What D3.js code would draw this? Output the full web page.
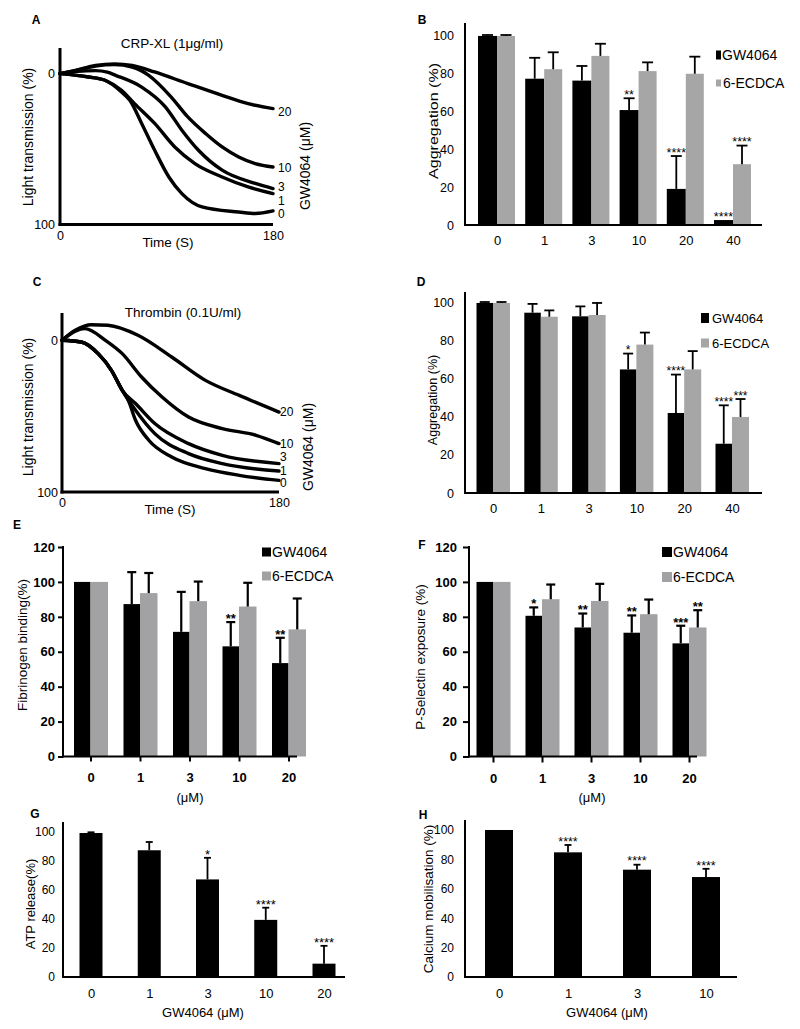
<!DOCTYPE html>
<html><head><meta charset="utf-8">
<script src="https://cdn.jsdelivr.net/npm/d3@7"></script>
<style>body{margin:0;background:#fff}</style>
</head><body>
<svg id="c" width="800" height="1029" style="background:#fff"></svg>
<script>
// ---------------- DATA ----------------
const doseB = ["0","1","3","10","20","40"];
const doseE = ["0","1","3","10","20"];
const doseH = ["0","1","3","10"];
const traceLabels = ["20","10","3","1","0"];
const axTicks0100 = [0,100];
const timeTicks = [0,180];

// A: CRP-XL traces [time (s), light transmission (%)]
const crp20 = [[0,0],[13,-2.2],[30,-5.5],[46,-6.5],[61,-5.5],[80,-1.1],[108,6.6],[137,14.4],[159,19.9],[180,23.2]];
const crp10 = [[0,0],[13,-2],[30,-5],[46,-6],[61,-4.4],[75,1.1],[94,15.5],[108,28.7],[123,39.7],[137,48.6],[151,55.2],[165,59.6],[180,61.9]];
const crp3  = [[0,0],[15,-1.5],[30,-2],[40,-1],[47,1.1],[69,8.9],[89,22],[103,37.5],[117,50.8],[137,64],[165,72.8],[180,76.2]];
const crp1  = [[0,0],[24,2.2],[38,4.4],[52,11],[63,19.9],[80,33],[97,48.6],[114,59.6],[137,68.5],[159,75.1],[180,79.5]];
const crp0  = [[0,0],[24,2.2],[38,4.4],[52,12.2],[59,17.7],[69,33],[80,50.8],[92,68.5],[103,79.5],[120,88.3],[151,91.7],[165,92.7],[180,91]];

// C: Thrombin traces
const thr20 = [[0,0],[11,-6.6],[24.5,-10.3],[38,-9.9],[63,-3.3],[91,11],[119,26.4],[147,36.3],[180,47.3]];
const thr10 = [[0,0],[11,-6],[19,-7.7],[36,0],[50,8.8],[66,24.2],[83,37.4],[105,50.6],[133,58.2],[161,62.6],[180,68.1]];
const thr3  = [[0,0],[16,1.1],[30,8.8],[41,19.8],[50,33],[61,41.7],[77,54.9],[105,68.1],[133,75.8],[180,81.3]];
const thr1  = [[0,0],[16,1.1],[30,8.8],[41,19.8],[50,33],[61,46.1],[77,61.5],[105,74.7],[133,81.3],[180,86.2]];
const thr0  = [[0,0],[16,1.1],[30,8.8],[41,19.8],[50,33],[55,39.6],[61,52.7],[72,65.9],[91,76.9],[119,84.6],[147,89],[180,92.3]];

// B: CRP-XL aggregation
const bGw = [99.5,77,76,60.5,19,2.6];
const bGwErr = [0.5,11,7.7,6.2,17.3,0];
const bGwStars = ["","","","**","****","****"];
const bEc = [99.5,82,89,81,79.6,32];
const bEcErr = [0.5,8.9,6.4,4.6,9,9.8];
const bEcStars = ["","","","","","****"];

// D: Thrombin aggregation
const dGw = [99.5,94.4,92.5,64.7,41.9,25.8];
const dGwErr = [0.5,4.6,5.2,8.3,20.1,20.1];
const dGwStars = ["","","","*","****","****"];
const dEc = [99.5,92.3,93.2,77.7,64.7,39.8];
const dEcErr = [0.5,3.3,6.3,6.3,9.6,9.4];
const dEcStars = ["","","","","","***"];

// E: Fibrinogen binding
const eGw = [100,87.3,71.4,63.1,53.5];
const eGwErr = [0,18.3,22.9,13.9,14.5];
const eGwStars = ["","","","**","**"];
const eEc = [100,93.6,89,85.9,72.8];
const eEcErr = [0,11.5,11.2,13.6,17.7];
const eEcStars = ["","","","",""];

// F: P-Selectin exposure
const fGw = [100,80.6,73.9,70.9,64.8];
const fGwErr = [0,4.8,8,9.9,10.1];
const fGwStars = ["","*","**","**","***"];
const fEc = [100,90.1,89.1,81.5,73.9];
const fEcErr = [0,8.4,9.8,8.4,9.9];
const fEcStars = ["","","","","**"];

// G: ATP release
const gAtp = [99.3,87.4,67.3,39.4,9.2];
const gAtpErr = [0.5,5.7,14.9,8.4,12.3];
const gStars = ["","","*","****","****"];

// H: Calcium mobilisation
const hCa = [100,84.8,73,68];
const hCaErr = [0,5,3.4,5.6];
const hStars = ["","****","****","****"];

const tick0100 = [0,20,40,60,80,100];
const tick0120 = [0,20,40,60,80,100,120];

// ---------------- DRAW ----------------
const FONT = '"Liberation Sans", Arial, Helvetica, sans-serif';
const svg = d3.select("#c");

function T(x, y, s, fs, opt = {}) {
  const t = svg.append("text")
    .attr("font-size", fs).attr("font-family", FONT).attr("fill", "#000")
    .attr("text-anchor", opt.anchor || "start")
    .attr("dominant-baseline", opt.base || "central")
    .attr("font-weight", opt.bold ? "bold" : "normal")
    .text(s);
  if (opt.rot) t.attr("transform", `translate(${x},${y}) rotate(${opt.rot})`);
  else t.attr("x", x).attr("y", y);
  if (opt.len) t.attr("textLength", opt.len).attr("lengthAdjust", "spacingAndGlyphs");
  return t;
}

function styleAxis(a, fs, bold, sw) {
  a.select(".domain").remove();
  a.selectAll("line").attr("stroke", "#000").attr("stroke-width", sw);
  a.selectAll("text").attr("font-size", fs).attr("font-family", FONT).attr("fill", "#000")
    .attr("font-weight", bold ? "bold" : "normal");
}

function tracePanel(p) {
  const x = d3.scaleLinear().domain([0, 180]).range([p.x0, p.x1]);
  const y = d3.scaleLinear().domain([p.vmin, 100]).range([p.top, p.bottom]);
  const line = d3.line().x(d => x(d[0])).y(d => y(d[1])).curve(d3.curveMonotoneX);
  svg.append("g").selectAll("path").data(p.traces).join("path")
    .attr("d", line).attr("fill", "none").attr("stroke", "#000")
    .attr("stroke-width", 3.4).attr("stroke-linejoin", "round").attr("stroke-linecap", "round");
  svg.append("line").attr("x1", p.x0).attr("x2", p.x0).attr("y1", p.top).attr("y2", p.bottom + 1.5)
    .attr("stroke", "#000").attr("stroke-width", 3);
  svg.append("line").attr("x1", p.x0 - 1.5).attr("x2", p.x1).attr("y1", p.bottom).attr("y2", p.bottom)
    .attr("stroke", "#000").attr("stroke-width", 3);
  const ya = svg.append("g").attr("transform", `translate(${p.x0},0)`)
    .call(d3.axisLeft(y).tickValues(axTicks0100).tickSize(0).tickPadding(p.yPad));
  styleAxis(ya, 12.5, false, 0);
  const xa = svg.append("g").attr("transform", `translate(0,${p.bottom})`)
    .call(d3.axisBottom(x).tickValues(timeTicks).tickSize(0).tickPadding(p.xPad));
  styleAxis(xa, 12.5, false, 0);
  p.traces.forEach((tr, i) => {
    T(p.labelX, y(tr[tr.length - 1][1]) + p.labelDy[i], traceLabels[i], 12);
  });
}

function barPanel(p) {
  const x = d3.scalePoint().domain(p.cats).range(p.xr);
  const y = d3.scaleLinear().domain([0, p.ymax]).range(p.yr);
  p.series.forEach(s => {
    const rows = s.vals.map((v, i) => ({ c: p.cats[i], v, e: s.errs[i], st: s.stars[i] }));
    const g = svg.append("g");
    g.selectAll("rect").data(rows).join("rect")
      .attr("x", d => x(d.c) + s.dx).attr("width", s.w)
      .attr("y", d => y(d.v)).attr("height", d => y(0) - y(d.v)).attr("fill", s.color);
    const eb = rows.filter(d => d.e > 0);
    const cx = d => x(d.c) + s.dx + s.w / 2;
    g.selectAll("line.v").data(eb).join("line").attr("class", "v")
      .attr("x1", cx).attr("x2", cx).attr("y1", d => y(d.v)).attr("y2", d => y(d.v + d.e))
      .attr("stroke", "#000").attr("stroke-width", p.ebw);
    g.selectAll("line.c").data(eb).join("line").attr("class", "c")
      .attr("x1", d => cx(d) - p.cap / 2).attr("x2", d => cx(d) + p.cap / 2)
      .attr("y1", d => y(d.v + d.e)).attr("y2", d => y(d.v + d.e))
      .attr("stroke", "#000").attr("stroke-width", p.ebw);
    g.selectAll("text").data(rows.filter(d => d.st)).join("text")
      .attr("x", cx).attr("y", d => y(d.v + d.e) - p.starGap + 0.42 * p.starFs)
      .attr("text-anchor", "middle").attr("font-size", p.starFs).attr("font-family", FONT)
      .attr("font-weight", p.starBold ? "bold" : "normal").text(d => d.st);
  });
  svg.append("line").attr("x1", p.ax).attr("x2", p.ax).attr("y1", p.axTop).attr("y2", y(0) + p.asw / 2)
    .attr("stroke", "#000").attr("stroke-width", p.asw);
  svg.append("line").attr("x1", p.ax - p.asw / 2).attr("x2", p.xEnd).attr("y1", y(0)).attr("y2", y(0))
    .attr("stroke", "#000").attr("stroke-width", p.asw);
  const ya = svg.append("g").attr("transform", `translate(${p.ax},0)`)
    .call(d3.axisLeft(y).tickValues(p.yTicks).tickSize(p.tick).tickPadding(p.yPad));
  styleAxis(ya, p.tfs, p.bold, p.asw);
  const xa = svg.append("g").attr("transform", `translate(0,${y(0)})`)
    .call(d3.axisBottom(x).tickSize(p.tick).tickPadding(p.xPad));
  styleAxis(xa, p.xfs || p.tfs, p.bold, p.asw);
}

function legend(items) {
  items.forEach(it => {
    svg.append("rect").attr("x", it.x).attr("y", it.y - it.h / 2).attr("width", it.w).attr("height", it.h).attr("fill", it.color);
    T(it.tx, it.y, it.label, it.fs);
  });
}

// ----- Panel A -----
T(36, 20, "A", 12, { anchor: "middle", bold: true });
T(172, 43, "CRP-XL (1μg/ml)", 13.5, { anchor: "middle" });
tracePanel({ x0: 60, x1: 273, top: 48, bottom: 224.5, vmin: -17,
  traces: [crp20, crp10, crp3, crp1, crp0], yPad: 5, xPad: 7,
  labelX: 278, labelDy: [3, 1, -1.5, 7, 3.5] });
T(28, 137, "Light transmission (%)", 14, { anchor: "middle", rot: -90 });
T(168, 242, "Time (S)", 13.5, { anchor: "middle" });
T(305, 166, "GW4064 (μM)", 14, { anchor: "middle", rot: -90 });

// ----- Panel C -----
T(37, 282, "C", 12, { anchor: "middle", bold: true });
T(183, 312, "Thrombin (0.1U/ml)", 13.5, { anchor: "middle" });
tracePanel({ x0: 62, x1: 279, top: 313, bottom: 492, vmin: -18,
  traces: [thr20, thr10, thr3, thr1, thr0], yPad: 4, xPad: 6.5,
  labelX: 280, labelDy: [0, 0, -6.5, -0.5, 3] });
T(28, 407, "Light transmission (%)", 14, { anchor: "middle", rot: -90 });
T(170, 509, "Time (S)", 13.5, { anchor: "middle" });
T(308, 447, "GW4064 (μM)", 14, { anchor: "middle", rot: -90 });

// ----- Panel B -----
T(422, 20, "B", 12, { anchor: "middle", bold: true });
barPanel({ cats: doseB, xr: [497, 733], ymax: 100, yr: [225, 35], ax: 465, axTop: 23, xEnd: 762,
  asw: 2, tick: 0, yPad: 11, xPad: 10.5, tfs: 12.5, xfs: 13, bold: false, yTicks: tick0100,
  ebw: 1.8, cap: 11, starGap: 4.5, starFs: 12.5, starBold: false,
  series: [
    { vals: bGw, errs: bGwErr, stars: bGwStars, color: "#000", dx: -19, w: 19 },
    { vals: bEc, errs: bEcErr, stars: bEcStars, color: "#a6a6a6", dx: 0, w: 18 }] });
T(434, 121, "Aggregation (%)", 12.5, { anchor: "middle", rot: -90, len: 116 });
legend([
  { x: 716, y: 55, w: 5, h: 9, color: "#000", tx: 722, label: "GW4064", fs: 14 },
  { x: 716, y: 83, w: 5, h: 7, color: "#a6a6a6", tx: 723, label: "6-ECDCA", fs: 14 }]);

// ----- Panel D -----
T(421, 282, "D", 12, { anchor: "middle", bold: true });
barPanel({ cats: doseB, xr: [493, 732], ymax: 100, yr: [493, 302], ax: 465, axTop: 292, xEnd: 762,
  asw: 2, tick: 0, yPad: 11, xPad: 11, tfs: 12.5, xfs: 13, bold: false, yTicks: tick0100,
  ebw: 1.8, cap: 10, starGap: 4.5, starFs: 12, starBold: false,
  series: [
    { vals: dGw, errs: dGwErr, stars: dGwStars, color: "#000", dx: -16.5, w: 16.5 },
    { vals: dEc, errs: dEcErr, stars: dEcStars, color: "#a6a6a6", dx: 0, w: 17 }] });
T(433, 400, "Aggregation (%)", 12.5, { anchor: "middle", rot: -90 });
legend([
  { x: 701, y: 318, w: 8, h: 10, color: "#000", tx: 712, label: "GW4064", fs: 13 },
  { x: 701, y: 343, w: 8, h: 9, color: "#a6a6a6", tx: 712, label: "6-ECDCA", fs: 13 }]);

// ----- Panel E -----
T(17, 525, "E", 12, { anchor: "middle", bold: true });
barPanel({ cats: doseE, xr: [90.5, 288.5], ymax: 120, yr: [756.5, 547], ax: 63, axTop: 546, xEnd: 297,
  asw: 2, tick: 5, yPad: 3, xPad: 11, tfs: 13, bold: true, yTicks: tick0120,
  ebw: 2.2, cap: 9, starGap: 4.5, starFs: 13, starBold: true,
  series: [
    { vals: eGw, errs: eGwErr, stars: eGwStars, color: "#000", dx: -16.5, w: 16.5 },
    { vals: eEc, errs: eEcErr, stars: eEcStars, color: "#a2a2a5", dx: 0, w: 17.5 }] });
T(22, 645, "Fibrinogen binding(%)", 13.5, { anchor: "middle", rot: -90 });
T(190, 797, "(μM)", 13, { anchor: "middle" });
legend([
  { x: 262, y: 552, w: 9, h: 9, color: "#000", tx: 272, label: "GW4064", fs: 14 },
  { x: 262, y: 576, w: 9, h: 9, color: "#a2a2a5", tx: 272, label: "6-ECDCA", fs: 14 }]);

// ----- Panel F -----
T(422, 545, "F", 12, { anchor: "middle", bold: true });
barPanel({ cats: doseE, xr: [493, 689], ymax: 120, yr: [756.5, 547], ax: 469, axTop: 546, xEnd: 697,
  asw: 2, tick: 6, yPad: 6, xPad: 11, tfs: 13, bold: true, yTicks: tick0120,
  ebw: 2.2, cap: 9, starGap: 4.5, starFs: 13, starBold: true,
  series: [
    { vals: fGw, errs: fGwErr, stars: fGwStars, color: "#000", dx: -16.5, w: 16.5 },
    { vals: fEc, errs: fEcErr, stars: fEcStars, color: "#a2a2a5", dx: 0, w: 17.5 }] });
T(420, 657, "P-Selectin exposure (%)", 13.5, { anchor: "middle", rot: -90 });
T(592, 797, "(μM)", 13, { anchor: "middle" });
legend([
  { x: 662, y: 552, w: 10, h: 10, color: "#000", tx: 673, label: "GW4064", fs: 14 },
  { x: 662, y: 577, w: 10, h: 10, color: "#a2a2a5", tx: 673, label: "6-ECDCA", fs: 14 }]);

// ----- Panel G -----
T(35, 814, "G", 12, { anchor: "middle", bold: true });
barPanel({ cats: doseE, xr: [91, 324], ymax: 100, yr: [977, 832], ax: 63, axTop: 822, xEnd: 345,
  asw: 2, tick: 0, yPad: 8, xPad: 11.5, tfs: 12, xfs: 13, bold: false, yTicks: tick0100,
  ebw: 1.8, cap: 7, starGap: 4.5, starFs: 13, starBold: false,
  series: [{ vals: gAtp, errs: gAtpErr, stars: gStars, color: "#000", dx: -11.5, w: 23 }] });
T(30, 904, "ATP release(%)", 13, { anchor: "middle", rot: -90 });
T(203, 1012, "GW4064 (μM)", 13, { anchor: "middle" });

// ----- Panel H -----
T(423, 815, "H", 12, { anchor: "middle", bold: true });
barPanel({ cats: doseH, xr: [499, 706], ymax: 100, yr: [977, 830], ax: 465, axTop: 820, xEnd: 737,
  asw: 2, tick: 0, yPad: 11, xPad: 11.5, tfs: 12, xfs: 13, bold: false, yTicks: tick0100,
  ebw: 1.8, cap: 7, starGap: 4.5, starFs: 12.5, starBold: false,
  series: [{ vals: hCa, errs: hCaErr, stars: hStars, color: "#000", dx: -14, w: 28 }] });
T(428.5, 899, "Calcium mobilisation (%)", 13.5, { anchor: "middle", rot: -90 });
T(607, 1012, "GW4064 (μM)", 13, { anchor: "middle" });
</script>
</body></html>
